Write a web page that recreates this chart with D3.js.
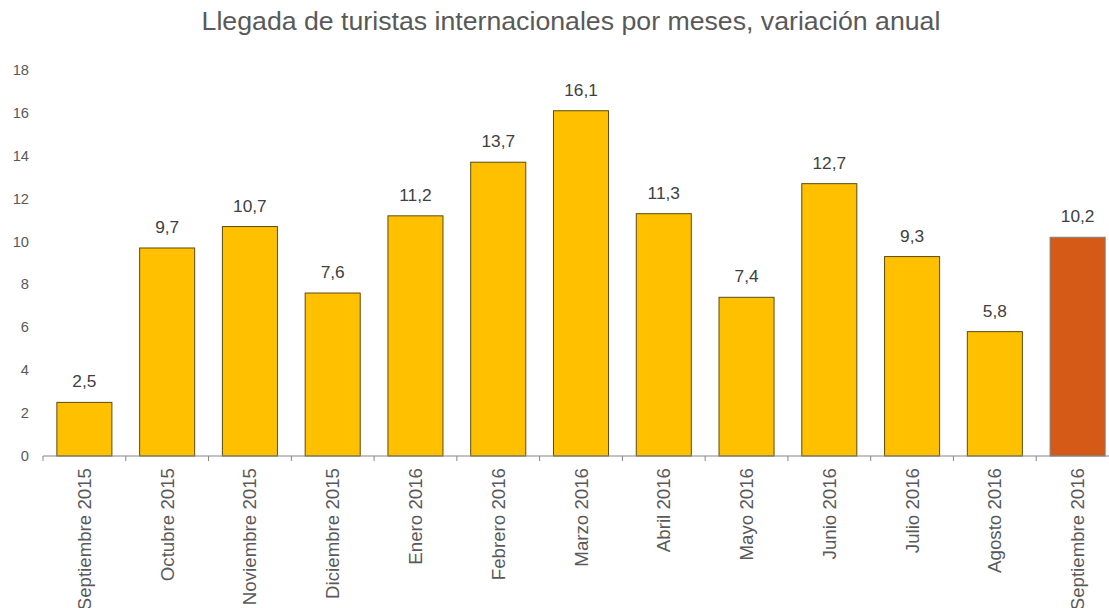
<!DOCTYPE html>
<html>
<head>
<meta charset="utf-8">
<script src="https://cdn.jsdelivr.net/npm/d3@7"></script>
<style>
  body { margin: 0; background: #fff; }
  svg { display: block; font-family: "Liberation Sans", Arial, sans-serif; }
</style>
</head>
<body>
<div id="chart"></div>
<script>
//Datos
const meses = ['Septiembre 2015','Octubre 2015','Noviembre 2015','Diciembre 2015','Enero 2016','Febrero 2016','Marzo 2016','Abril 2016','Mayo 2016','Junio 2016','Julio 2016','Agosto 2016','Septiembre 2016'];
const variacion = [2.5, 9.7, 10.7, 7.6, 11.2, 13.7, 16.1, 11.3, 7.4, 12.7, 9.3, 5.8, 10.2];
const yTicks = [0, 2, 4, 6, 8, 10, 12, 14, 16, 18];

const COLOR_BAR = '#FFC000',
  COLOR_LAST = '#D55A17',
  COLOR_TEXT = '#595959';

let width = 1109, height = 608;
let margin = {top: 70, right: -10, bottom: 152, left: 43};

let svg = d3.select('#chart').append('svg')
  .attr('width', width)
  .attr('height', height);

//Título
svg.append('text')
  .attr('x', 571)
  .attr('y', 30)
  .attr('text-anchor', 'middle')
  .attr('fill', COLOR_TEXT)
  .style('font-size', '26.7px')
  .text('Llegada de turistas internacionales por meses, variación anual');

let x = d3.scaleBand()
  .domain(meses)
  .range([margin.left, width - margin.right])
  .paddingInner(0.335)
  .paddingOuter(0.1675);

let y = d3.scaleLinear()
  .domain([0, 18])
  .range([height - margin.bottom, margin.top]);

//Eje Y (solo etiquetas)
svg.append('g')
  .selectAll('text')
  .data(yTicks)
  .enter()
  .append('text')
    .attr('x', 29)
    .attr('y', d => y(d) + 5)
    .attr('text-anchor', 'end')
    .attr('fill', COLOR_TEXT)
    .style('font-size', '14.7px')
    .text(d => d);

//Barras
svg.append('g')
  .selectAll('rect')
  .data(variacion)
  .enter()
  .append('rect')
    .attr('x', (d, i) => x(meses[i]))
    .attr('y', d => y(d))
    .attr('width', x.bandwidth())
    .attr('height', d => y(0) - y(d))
    .attr('fill', (d, i) => i === variacion.length - 1 ? COLOR_LAST : COLOR_BAR)
    .attr('stroke', (d, i) => i === variacion.length - 1 ? '#7f7f7f' : '#5c4a14')
    .attr('stroke-width', 1);

//Etiquetas de valores
svg.append('g')
  .selectAll('text')
  .data(variacion)
  .enter()
  .append('text')
    .attr('x', (d, i) => x(meses[i]) + x.bandwidth() / 2)
    .attr('y', d => y(d) - 15)
    .attr('text-anchor', 'middle')
    .attr('fill', '#404040')
    .style('font-size', '17.3px')
    .text(d => d3.format('.1f')(d).replace('.', ','));

//Eje X
let xAxis = svg.append('g')
  .attr('transform', 'translate(0,' + y(0) + ')');

xAxis.append('line')
  .attr('x1', margin.left)
  .attr('x2', width)
  .attr('stroke', '#868686');

let step = x.step();
xAxis.selectAll('.tick')
  .data(d3.range(meses.length + 1))
  .enter()
  .append('line')
    .attr('x1', i => margin.left + i * step)
    .attr('x2', i => margin.left + i * step)
    .attr('y1', 0)
    .attr('y2', 5)
    .attr('stroke', '#868686');

xAxis.selectAll('.lbl')
  .data(meses)
  .enter()
  .append('text')
    .attr('transform', d => 'translate(' + (x(d) + x.bandwidth() / 2 + 6.5) + ',12) rotate(-90)')
    .attr('text-anchor', 'end')
    .attr('fill', COLOR_TEXT)
    .style('font-size', '18.7px')
    .text(d => d);
</script>
</body>
</html>
